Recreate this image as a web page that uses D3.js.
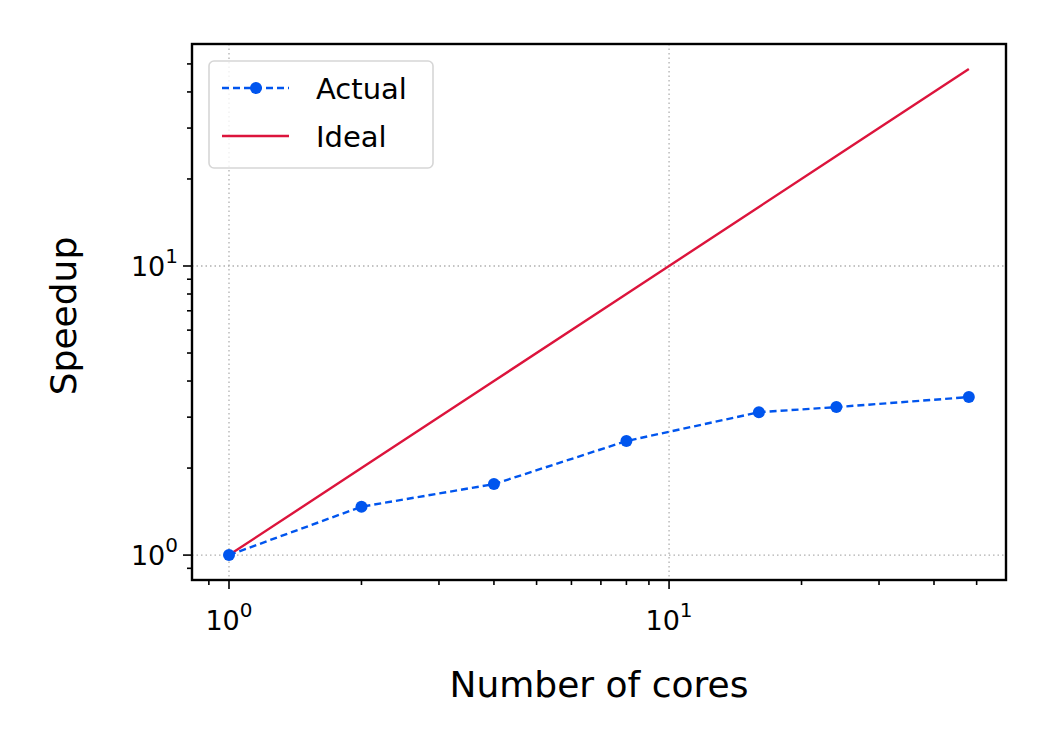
<!DOCTYPE html>
<html><head><meta charset="utf-8">
<script src="https://cdn.jsdelivr.net/npm/d3@7"></script>
<style>body{margin:0;background:#fff}text{font-family:"DejaVu Sans",sans-serif}</style>
</head><body>
<svg id="c" width="1050" height="750"></svg>
<script>
var cores = [1, 2, 4, 8, 16, 24, 48];
var speedup = [1, 1.47, 1.76, 2.48, 3.12, 3.25, 3.52];
var ideal = cores.slice();
var majorTicks = [1, 10];

var L = 192, R = 1006, T = 44, B = 580;
var svg = d3.select("#c");
var x = d3.scaleLog().domain([0.824, 58.3]).range([L, R]);
var y = d3.scaleLog().domain([0.82, 58.6]).range([B, T]);

// grid
var g = svg.append("g").attr("stroke", "#b0b0b0").attr("stroke-width", 1.3).attr("stroke-dasharray", "1.5,3");
majorTicks.forEach(function(v) {
  g.append("line").attr("x1", x(v)).attr("x2", x(v)).attr("y1", T).attr("y2", B);
  g.append("line").attr("y1", y(v)).attr("y2", y(v)).attr("x1", L).attr("x2", R);
});

// minor ticks
var minors = [];
[0.1, 1, 10].forEach(function(d) { for (var i = 2; i <= 9; i++) minors.push(d * i); });
var mx = minors.filter(function(v) { return v > 0.824 && v < 58.3; });
var my = minors.filter(function(v) { return v > 0.82 && v < 58.6; });
var ax = svg.append("g").attr("stroke", "#000").attr("stroke-width", 1.6);
mx.forEach(function(v) { ax.append("line").attr("x1", x(v)).attr("x2", x(v)).attr("y1", B).attr("y2", B + 5); });
my.forEach(function(v) { ax.append("line").attr("y1", y(v)).attr("y2", y(v)).attr("x1", L).attr("x2", L - 5); });
majorTicks.forEach(function(v) {
  ax.append("line").attr("x1", x(v)).attr("x2", x(v)).attr("y1", B).attr("y2", B + 9);
  ax.append("line").attr("y1", y(v)).attr("y2", y(v)).attr("x1", L).attr("x2", L - 9);
});

function sup(sel, base, exp) {
  sel.append("tspan").text(base);
  sel.append("tspan").attr("dy", -13).attr("font-size", 20).text(exp);
}
majorTicks.forEach(function(v, i) {
  sup(svg.append("text").attr("x", x(v)).attr("y", B + 50).attr("text-anchor", "middle").attr("font-size", 27), "10", i);
  sup(svg.append("text").attr("x", L - 14).attr("y", y(v) + 10).attr("text-anchor", "end").attr("font-size", 27), "10", i);
});

svg.append("text").attr("x", (L + R) / 2).attr("y", 697).attr("text-anchor", "middle").attr("font-size", 36).text("Number of cores");
svg.append("text").attr("transform", "translate(76," + ((T + B) / 2 + 4) + ") rotate(-90)").attr("text-anchor", "middle").attr("font-size", 36).text("Speedup");

var line = d3.line().x(function(d) { return x(d[0]); }).y(function(d) { return y(d[1]); });
svg.append("path").attr("d", line(d3.zip(cores, ideal))).attr("fill", "none").attr("stroke", "#dc143c").attr("stroke-width", 2.4);
svg.append("path").attr("d", line(d3.zip(cores, speedup))).attr("fill", "none").attr("stroke", "#0055ee").attr("stroke-width", 2.4).attr("stroke-dasharray", "7,4");
svg.selectAll("circle.p").data(d3.zip(cores, speedup)).enter().append("circle")
  .attr("cx", function(d) { return x(d[0]); }).attr("cy", function(d) { return y(d[1]); })
  .attr("r", 6).attr("fill", "#0055ee");

svg.append("rect").attr("x", L).attr("y", T).attr("width", R - L).attr("height", B - T).attr("fill", "none").attr("stroke", "#000").attr("stroke-width", 2.4);

// legend
var lg = svg.append("g");
lg.append("rect").attr("x", 209).attr("y", 61).attr("width", 224).attr("height", 107).attr("rx", 5)
  .attr("fill", "#fff").attr("fill-opacity", 0.8).attr("stroke", "#d6d6d6").attr("stroke-width", 1.6);
lg.append("line").attr("x1", 222).attr("x2", 289).attr("y1", 88).attr("y2", 88).attr("stroke", "#0055ee").attr("stroke-width", 2.4).attr("stroke-dasharray", "7,4");
lg.append("circle").attr("cx", 256).attr("cy", 88).attr("r", 6).attr("fill", "#0055ee");
lg.append("line").attr("x1", 222).attr("x2", 289).attr("y1", 136).attr("y2", 136).attr("stroke", "#dc143c").attr("stroke-width", 2.4);
lg.append("text").attr("x", 316).attr("y", 99).attr("font-size", 29).text("Actual");
lg.append("text").attr("x", 316).attr("y", 147).attr("font-size", 29).text("Ideal");
</script>
</body></html>
